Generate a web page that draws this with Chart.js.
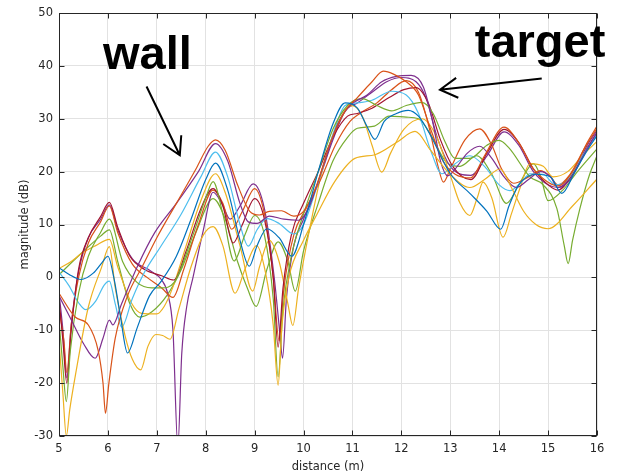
<!DOCTYPE html>
<html>
<head>
<meta charset="utf-8">
<script src="https://cdn.jsdelivr.net/npm/chart.js@4.4.1/dist/chart.umd.min.js"></script>
<style>
  html, body { margin: 0; padding: 0; background: #ffffff; }
  canvas { display: block; }
</style>
</head>
<body>
<canvas id="chart" width="619" height="476"></canvas>
<script>
// ── Data: [distance (m), magnitude (dB)] ──
var xTicks = [5, 6, 7, 8, 9, 10, 11, 12, 13, 14, 15, 16];
var yTicks = [-30, -20, -10, 0, 10, 20, 30, 40, 50];

var blue1 = [[5,1.8],[5.2,0.6],[5.45,-0.4],[5.7,0.8],[5.88,2.8],[6.0,4],[6.12,0],[6.25,-7],[6.4,-14.3],[6.6,-9.5],[6.85,-3.5],[7.1,-0.6],[7.4,4],[7.7,11],[8.0,18.5],[8.2,21.6],[8.45,16.5],[8.7,7],[8.89,2.1],[9.05,6],[9.25,9.2],[9.5,7.5],[9.76,4],[10.0,10],[10.3,20],[10.6,29],[10.85,33],[11.1,32],[11.3,28.5],[11.46,26.1],[11.65,29.5],[11.9,31],[12.14,31.6],[12.35,30.5],[12.6,26.8],[13.0,19.6],[13.4,15.9],[13.75,12.5],[14.03,9.1],[14.2,13.5],[14.4,17.5],[14.75,19.5],[15.05,19],[15.28,15.9],[15.55,20],[15.8,24],[16,26.8]];
var orange1 = [[5,-3],[5.33,-7.5],[5.6,-9],[5.8,-13.8],[5.9,-20],[5.95,-25.7],[6.02,-20],[6.15,-11.5],[6.4,-3.5],[6.7,2],[7.0,7.5],[7.4,14],[7.8,20.5],[8.05,24.8],[8.2,26],[8.4,24],[8.65,17.5],[8.9,12.5],[9.1,11.8],[9.3,12.5],[9.55,12.6],[9.8,11.6],[10.0,12.5],[10.25,17],[10.55,25.5],[10.85,31.5],[11.1,34],[11.4,37],[11.63,39],[11.85,38.4],[12.1,37],[12.35,34.5],[12.6,28],[12.85,22],[13.1,19.5],[13.42,18.8],[13.7,23],[14.1,28.4],[14.4,25.5],[14.7,20.5],[15.0,18],[15.2,17.3],[15.5,20],[15.8,25.5],[16,28.6]];
var yellow1 = [[5,-12],[5.08,-22],[5.15,-30],[5.22,-25],[5.33,-18.8],[5.6,-5.6],[5.87,1.9],[6.03,5.8],[6.15,-2],[6.35,-11],[6.5,-15.5],[6.67,-17.5],[6.82,-13],[6.98,-10.8],[7.12,-11],[7.27,-11.7],[7.45,-6],[7.7,2],[7.95,8],[8.15,9.6],[8.35,6],[8.6,-3],[8.8,1.5],[9.04,6],[9.22,1],[9.38,-9],[9.48,-20.4],[9.56,-9],[9.7,0],[10.0,7],[10.25,11.5],[10.65,18.3],[11.05,22.5],[11.46,23.2],[11.9,25.5],[12.28,27.6],[12.6,24],[13.0,19.5],[13.4,17],[13.7,18.5],[14.02,20.5],[14.25,17],[14.5,12.5],[14.75,10],[15.0,9.2],[15.5,13.5],[16,18.6]];
var purple1 = [[5,-3.5],[5.25,-8],[5.5,-12.5],[5.74,-15.3],[5.9,-11.5],[6.03,-8.1],[6.1,-9],[6.28,-5],[6.6,2],[6.96,8.5],[7.4,14],[7.85,20],[8.2,25.3],[8.45,22],[8.7,14],[8.87,10.5],[9.05,10.2],[9.3,11.6],[9.6,11],[9.9,10.8],[10.1,13],[10.4,21],[10.7,29],[10.95,32.5],[11.3,34.5],[11.6,37],[11.9,38],[12.2,38.2],[12.45,36],[12.65,29],[12.8,22],[12.95,19.2],[13.1,20.5],[13.35,23.5],[13.6,24.8],[13.85,22.5],[14.1,19],[14.35,17],[14.6,18.5],[14.85,20],[15.05,19],[15.2,17],[15.45,18.5],[15.75,23.5],[16,27.5]];
var green1 = [[5,-8],[5.08,-17],[5.15,-23.5],[5.23,-14],[5.4,-3],[5.6,4],[5.85,8.5],[6.03,11],[6.3,3],[6.6,-1],[6.9,-2],[7.1,-2],[7.35,-1],[7.7,7],[8.0,15],[8.15,18.1],[8.35,12],[8.58,3.1],[8.8,8],[9.0,11.7],[9.2,8],[9.38,-4],[9.48,-18.8],[9.58,-6],[9.75,4],[10.0,12],[10.3,20],[10.6,28],[10.9,32.5],[11.2,33.8],[11.5,32.5],[11.8,31.5],[12.1,32.5],[12.42,33.1],[12.65,31],[12.9,25.5],[13.1,22.5],[13.4,22.5],[13.75,25],[14.0,25.9],[14.2,24.5],[14.63,19],[14.9,17.5],[15.18,13],[15.33,6],[15.41,2.6],[15.5,7],[15.65,13],[15.85,19.5],[16,23]];
var lightBlue1 = [[5,1],[5.2,-1.5],[5.4,-4.8],[5.55,-6.1],[5.75,-4.5],[5.92,-1.5],[6.03,-0.7],[6.15,-5],[6.28,-9.4],[6.5,-4],[6.75,1],[7.07,5.7],[7.5,12],[7.9,19],[8.2,23.7],[8.45,19],[8.7,10],[8.87,5.9],[9.05,9],[9.25,11.1],[9.5,10.2],[9.8,8.2],[10.0,10],[10.3,18],[10.6,27],[10.85,32.5],[11.1,33],[11.4,33.5],[11.8,35.2],[12.1,34.5],[12.35,31],[12.6,24],[12.83,19.6],[13.1,21.5],[13.4,23],[13.7,21],[14.0,17.5],[14.22,16.4],[14.45,18],[14.63,19.6],[14.9,19.5],[15.15,17.5],[15.4,18.5],[15.7,23],[16,27]];
var darkRed1 = [[5,-4],[5.08,-12],[5.16,-20],[5.25,-10],[5.4,1.5],[5.6,7.5],[5.85,11.5],[6.03,14.2],[6.2,9.5],[6.45,4],[6.75,1.5],[7.1,0.3],[7.35,-0.5],[7.6,5],[7.9,13],[8.15,16.8],[8.35,13.5],[8.56,6.5],[8.75,10],[9.0,14.9],[9.2,11],[9.38,0],[9.48,-13.2],[9.58,-2],[9.75,8],[10.0,14],[10.3,20],[10.6,26.5],[10.9,30.5],[11.1,31],[11.4,32],[11.75,34],[12.05,35.5],[12.3,35.9],[12.55,33],[12.8,26],[13.05,21],[13.42,18.5],[13.75,23.5],[14.1,28],[14.4,25.5],[14.7,20.5],[15.0,17.5],[15.2,16.5],[15.5,19.5],[15.8,24.5],[16,27.3]];
var orange2 = [[5,-6],[5.1,-12],[5.16,-18],[5.25,-9],[5.4,0],[5.6,6.5],[5.85,10.5],[6.03,13.5],[6.2,8.5],[6.5,2.5],[6.8,0],[7.1,-2],[7.33,-3.8],[7.55,1.5],[7.85,10],[8.15,16.5],[8.35,14],[8.53,9.1],[8.75,12.5],[9.0,16.8],[9.2,12],[9.38,0],[9.5,-12],[9.6,-2],[9.8,8],[10.05,13],[10.35,18.5],[10.65,25],[10.95,29.5],[11.15,31],[11.5,33],[11.8,35.5],[12.1,37.2],[12.35,35],[12.55,29],[12.75,21],[12.86,18],[13.0,20.5],[13.3,26],[13.6,28.1],[13.85,25],[14.05,20.5],[14.3,17.8],[14.6,19],[14.84,20.2],[15.05,19],[15.2,17.5],[15.45,19.5],[15.75,24.5],[16,28.2]];
var yellow2 = [[5,1.7],[5.25,3],[5.46,4.5],[5.75,6],[6.03,7.2],[6.2,2],[6.49,-5],[6.69,-6.8],[7.0,-6.9],[7.15,-5.5],[7.33,-1.8],[7.6,6],[7.9,14.5],[8.2,19.6],[8.4,16],[8.7,6],[8.96,-2.6],[9.1,2],[9.3,7],[9.5,3],[9.68,-5],[9.78,-9.1],[9.9,-2],[10.1,8],[10.35,19],[10.6,27],[10.85,31.5],[11.0,32.5],[11.2,30.5],[11.4,25],[11.6,19.9],[11.78,23.5],[12.05,28],[12.42,30],[12.7,27],[13.0,19.3],[13.2,14],[13.4,11.7],[13.55,15],[13.67,18],[13.85,15],[14.08,7.6],[14.25,12],[14.43,17],[14.63,21.5],[14.9,21],[15.1,19],[15.4,20],[15.7,23],[16,25.7]];
var purple2 = [[5,-2.8],[5.08,-10],[5.16,-19],[5.25,-9],[5.4,1],[5.6,7.5],[5.85,11],[6.03,13.7],[6.2,9],[6.5,3.5],[6.86,1.3],[7.1,-0.5],[7.22,-3],[7.33,-10],[7.43,-32],[7.51,-14.4],[7.61,-5.6],[7.74,0],[7.95,8.9],[8.15,16.1],[8.33,14],[8.5,11],[8.7,13.5],[8.97,17.7],[9.2,13],[9.4,0],[9.52,-11],[9.57,-15.3],[9.65,-4],[9.8,6],[10.0,11],[10.3,18],[10.6,26],[10.85,31.5],[11.1,33],[11.4,35],[11.7,37],[12.0,37.8],[12.3,37],[12.5,34],[12.75,26],[13.0,21],[13.42,19.3],[13.75,23],[14.1,27.5],[14.4,25],[14.7,20],[15.0,17.5],[15.2,17],[15.5,19.5],[15.8,25],[16,27.8]];
var green2 = [[5,0.5],[5.3,3.2],[5.6,5.8],[5.85,7.8],[6.03,9],[6.2,3],[6.45,-5],[6.65,-7.5],[6.9,-6.5],[7.2,-3.5],[7.5,1.5],[7.8,8.5],[8.15,14.9],[8.4,11],[8.65,3],[8.85,-2],[9.03,-5.5],[9.25,1.5],[9.48,6.7],[9.68,3],[9.83,-2.6],[10.0,5],[10.3,14],[10.6,22],[10.9,26.5],[11.1,28.2],[11.45,28.6],[11.75,30.5],[12.1,30.3],[12.35,30],[12.6,27],[12.9,22],[13.2,21],[13.54,23],[13.85,19.5],[14.15,14],[14.4,17.5],[14.7,21.5],[14.85,19],[15.0,14.5],[15.3,16.5],[15.6,20],[16,24.3]];

// MATLAB default line colours, in plotting order
var series = [
  { data: blue1,      color: "#0072BD" },
  { data: orange1,    color: "#D95319" },
  { data: yellow1,    color: "#EDB120" },
  { data: purple1,    color: "#7E2F8E" },
  { data: green1,     color: "#77AC30" },
  { data: lightBlue1, color: "#4DBEEE" },
  { data: darkRed1,   color: "#A2142F" },
  { data: orange2,    color: "#D95319" },
  { data: yellow2,    color: "#EDB120" },
  { data: purple2,    color: "#7E2F8E" },
  { data: green2,     color: "#77AC30" }
];

// Text annotations and arrows, in data units
var notes  = [ { text: "wall", x: 5.9, y: 39.5 }, { text: "target", x: 13.5, y: 41.6 } ];
var arrows = [ { from: [6.79, 36.1], to: [7.47, 23.1] }, { from: [14.87, 37.6], to: [12.79, 35.5] } ];

var AXIS = "#262626";
var FONT = { family: "'DejaVu Sans', sans-serif", size: 11.5 };

// ── Box, inward ticks, annotations ──────────────────────
var matlabAxes = {
  id: "matlabAxes",
  afterDraw: function(chart) {
    var ctx = chart.ctx, a = chart.chartArea;
    var xs = chart.scales.x, ys = chart.scales.y;
    var L = Math.round(a.left) + 0.5, R = Math.round(a.right) - 0.5;
    var T = Math.round(a.top) + 0.5, B = Math.round(a.bottom) - 0.5;
    ctx.save();
    ctx.strokeStyle = AXIS;
    ctx.lineWidth = 1;
    ctx.strokeRect(L, T, R - L, B - T);
    ctx.beginPath();
    xTicks.forEach(function(v) {
      var px = Math.round(xs.getPixelForValue(v)) + 0.5;
      ctx.moveTo(px, B); ctx.lineTo(px, B - 5);
      ctx.moveTo(px, T); ctx.lineTo(px, T + 5);
    });
    yTicks.forEach(function(v) {
      var py = Math.round(ys.getPixelForValue(v)) + 0.5;
      ctx.moveTo(L, py); ctx.lineTo(L + 5, py);
      ctx.moveTo(R, py); ctx.lineTo(R - 5, py);
    });
    ctx.stroke();

    ctx.fillStyle = "#000";
    ctx.font = "bold 47px 'Liberation Sans', Arial, sans-serif";
    ctx.textBaseline = "alphabetic";
    ctx.textAlign = "left";
    notes.forEach(function(n) {
      ctx.fillText(n.text, xs.getPixelForValue(n.x), ys.getPixelForValue(n.y));
    });

    ctx.strokeStyle = "#000";
    ctx.lineWidth = 2;
    arrows.forEach(function(ar) {
      var x0 = xs.getPixelForValue(ar.from[0]), y0 = ys.getPixelForValue(ar.from[1]);
      var x1 = xs.getPixelForValue(ar.to[0]),   y1 = ys.getPixelForValue(ar.to[1]);
      var ang = Math.atan2(y1 - y0, x1 - x0), head = 20, spread = Math.PI / 6;
      ctx.beginPath();
      ctx.moveTo(x0, y0); ctx.lineTo(x1, y1);
      ctx.moveTo(x1 - head * Math.cos(ang - spread), y1 - head * Math.sin(ang - spread));
      ctx.lineTo(x1, y1);
      ctx.lineTo(x1 - head * Math.cos(ang + spread), y1 - head * Math.sin(ang + spread));
      ctx.stroke();
    });
    ctx.restore();
  }
};

new Chart(document.getElementById("chart"), {
  type: "line",
  data: {
    datasets: series.map(function(s) {
      return {
        data: s.data.map(function(p) { return { x: p[0], y: p[1] }; }),
        borderColor: s.color,
        borderWidth: 1.2,
        pointRadius: 0,
        fill: false,
        cubicInterpolationMode: "monotone"
      };
    })
  },
  options: {
    responsive: false,
    animation: false,
    events: [],
    layout: { padding: { left: 0, top: 13, right: 22, bottom: 0 } },
    plugins: { legend: { display: false }, tooltip: { enabled: false } },
    scales: {
      x: {
        type: "linear", min: 5, max: 16,
        afterBuildTicks: function(s) { s.ticks = xTicks.map(function(v) { return { value: v }; }); },
        afterFit: function(s) { s.height = 40; },
        ticks: { color: AXIS, font: FONT, padding: 6, maxRotation: 0 },
        grid: { color: "#e2e2e2", drawTicks: false },
        border: { display: false },
        title: { display: true, text: "distance (m)", color: AXIS, font: FONT, padding: { top: 0, bottom: 2 } }
      },
      y: {
        type: "linear", min: -30, max: 50,
        afterBuildTicks: function(s) { s.ticks = yTicks.map(function(v) { return { value: v }; }); },
        afterFit: function(s) { s.width = 59; },
        ticks: { color: AXIS, font: FONT, padding: 6 },
        grid: { color: "#e2e2e2", drawTicks: false },
        border: { display: false },
        title: { display: true, text: "magnitude (dB)", color: AXIS, font: FONT, padding: { top: 18, bottom: 0 } }
      }
    }
  },
  plugins: [matlabAxes]
});
</script>
</body>
</html>
